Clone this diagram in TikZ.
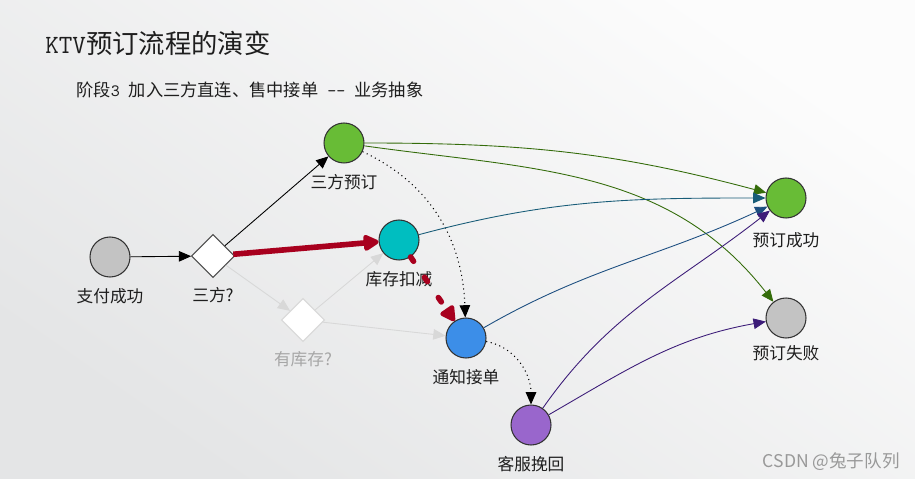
\documentclass[tikz,border=0pt]{standalone}
\usepackage{fontspec}
\setmainfont{Noto Sans CJK SC}
\usepackage{tikz}
\usetikzlibrary{arrows.meta,shapes.geometric,positioning}
\usepackage{xcolor}
\definecolor{bgtop}{RGB}{252,252,252}
\definecolor{bgbot}{RGB}{228,229,230}
\definecolor{graycol}{RGB}{195,195,195}
\definecolor{greencol}{RGB}{104,188,54}
\definecolor{tealcol}{RGB}{0,190,192}
\definecolor{bluecol}{RGB}{60,142,232}
\definecolor{purplecol}{RGB}{153,102,204}
\definecolor{okline}{RGB}{52,108,10}
\definecolor{stockline}{RGB}{24,92,120}
\definecolor{notifyline}{RGB}{28,78,128}
\definecolor{saveline}{RGB}{60,28,120}
\definecolor{hotcol}{RGB}{168,0,30}
\definecolor{fadecol}{RGB}{216,216,216}
\definecolor{txtcol}{RGB}{30,30,30}
\tikzset{
  % state circle
  state/.style={circle, draw=black!80, line width=0.6pt, fill=#1, minimum size=0.8cm, inner sep=0pt},
  state/.default={graycol},
  % decision diamond
  choice/.style={diamond, draw=#1, line width=0.6pt, fill=white, minimum size=0.86cm, inner sep=0pt},
  choice/.default={black!70},
  % node caption
  caption/.style={font=\fontsize{9.5}{11}\selectfont, text=#1, inner sep=2pt},
  caption/.default={txtcol},
  % normal flow arrow
  flow/.style={-{Triangle[length=7pt,width=6pt]}, line width=0.5pt, draw=#1},
  flow/.default={black},
  % emphasised flow
  hotflow/.style={-{Triangle[length=10pt,width=10pt,round]}, line width=3.2pt, draw=hotcol},
  % fallback flow
  backflow/.style={-{Triangle[length=7pt,width=6pt]}, line width=0.6pt, dotted, draw=black},
}
\begin{document}
\begin{tikzpicture}[x=0.02cm,y=0.02cm]
  \shade[top color=bgtop, bottom color=bgbot, shading angle=-35] (0,0) rectangle (915,-479);
  \useasboundingbox (0,0) rectangle (915,-479);

  \node[anchor=west, inner sep=0pt, text=txtcol, font=\fontsize{15}{18}\selectfont] (title) at (45,-43) {{\ttfamily KTV}预订流程的演变};
  \node[anchor=west, inner sep=0pt, text=txtcol, font=\fontsize{9.8}{12}\selectfont] (subtitle) at (76,-90) {阶段{\ttfamily 3 }加入三方直连、售中接单{\ttfamily\ -{}-\ }业务抽象};

  % states
  \node[state=graycol, label={[caption,label distance=4pt]below:支付成功}] (pay) at (110,-257) {};
  \node[choice, label={[caption,label distance=3pt]below:三方?}] (third) at (213,-256) {};
  \node[state=greencol, label={[caption,label distance=4pt]below:三方预订}] (tbook) at (344,-143) {};
  \node[state=tealcol, label={[caption,label distance=4pt]below:库存扣减}] (stock) at (399,-240) {};
  \node[choice=fadecol, label={[caption=black!35,label distance=3pt]below:有库存?}] (have) at (303,-320) {};
  \node[state=bluecol, label={[caption,label distance=4pt]below:通知接单}] (notify) at (466,-338) {};
  \node[state=purplecol, label={[caption,label distance=4pt]below:客服挽回}] (save) at (531,-425) {};
  \node[state=greencol, label={[caption,label distance=6pt]below:预订成功}] (ok) at (786,-198) {};
  \node[state=graycol, label={[caption,label distance=2pt]below:预订失败}] (fail) at (786,-318) {};

  % flows
  \draw[flow] (pay) -- (third);
  \draw[flow] (third) -- (tbook);
  \draw[flow=fadecol] (third) -- (have);
  \draw[flow=fadecol] (have) -- (stock);
  \draw[flow=fadecol] (have) -- (notify);
  \draw[hotflow] (third) -- (stock);
  \draw[hotflow, line cap=round, dash pattern=on 3pt off 11pt] (stock) -- (notify);
  \draw[backflow] (tbook) to[out=-25, in=92] (notify);
  \draw[backflow] (notify) to[out=-10, in=90] (save);
  \draw[flow=okline] (tbook) to[out=0, in=165] (ok);
  \draw[flow=okline] (tbook) to[out=-8, in=128] (fail);
  \draw[flow=stockline] (stock) to[out=15, in=180] (ok);
  \draw[flow=notifyline] (notify) to[out=30, in=205] (ok);
  \draw[flow=saveline] (save) to[out=55, in=218] (ok);
  \draw[flow=saveline] (save) to[out=30, in=190] (fail);

  \node[anchor=east, inner sep=0pt, text=black!40, font=\fontsize{10}{12}\selectfont] (mark) at (900,-462) {CSDN @兔子队列};
\end{tikzpicture}
\end{document}
